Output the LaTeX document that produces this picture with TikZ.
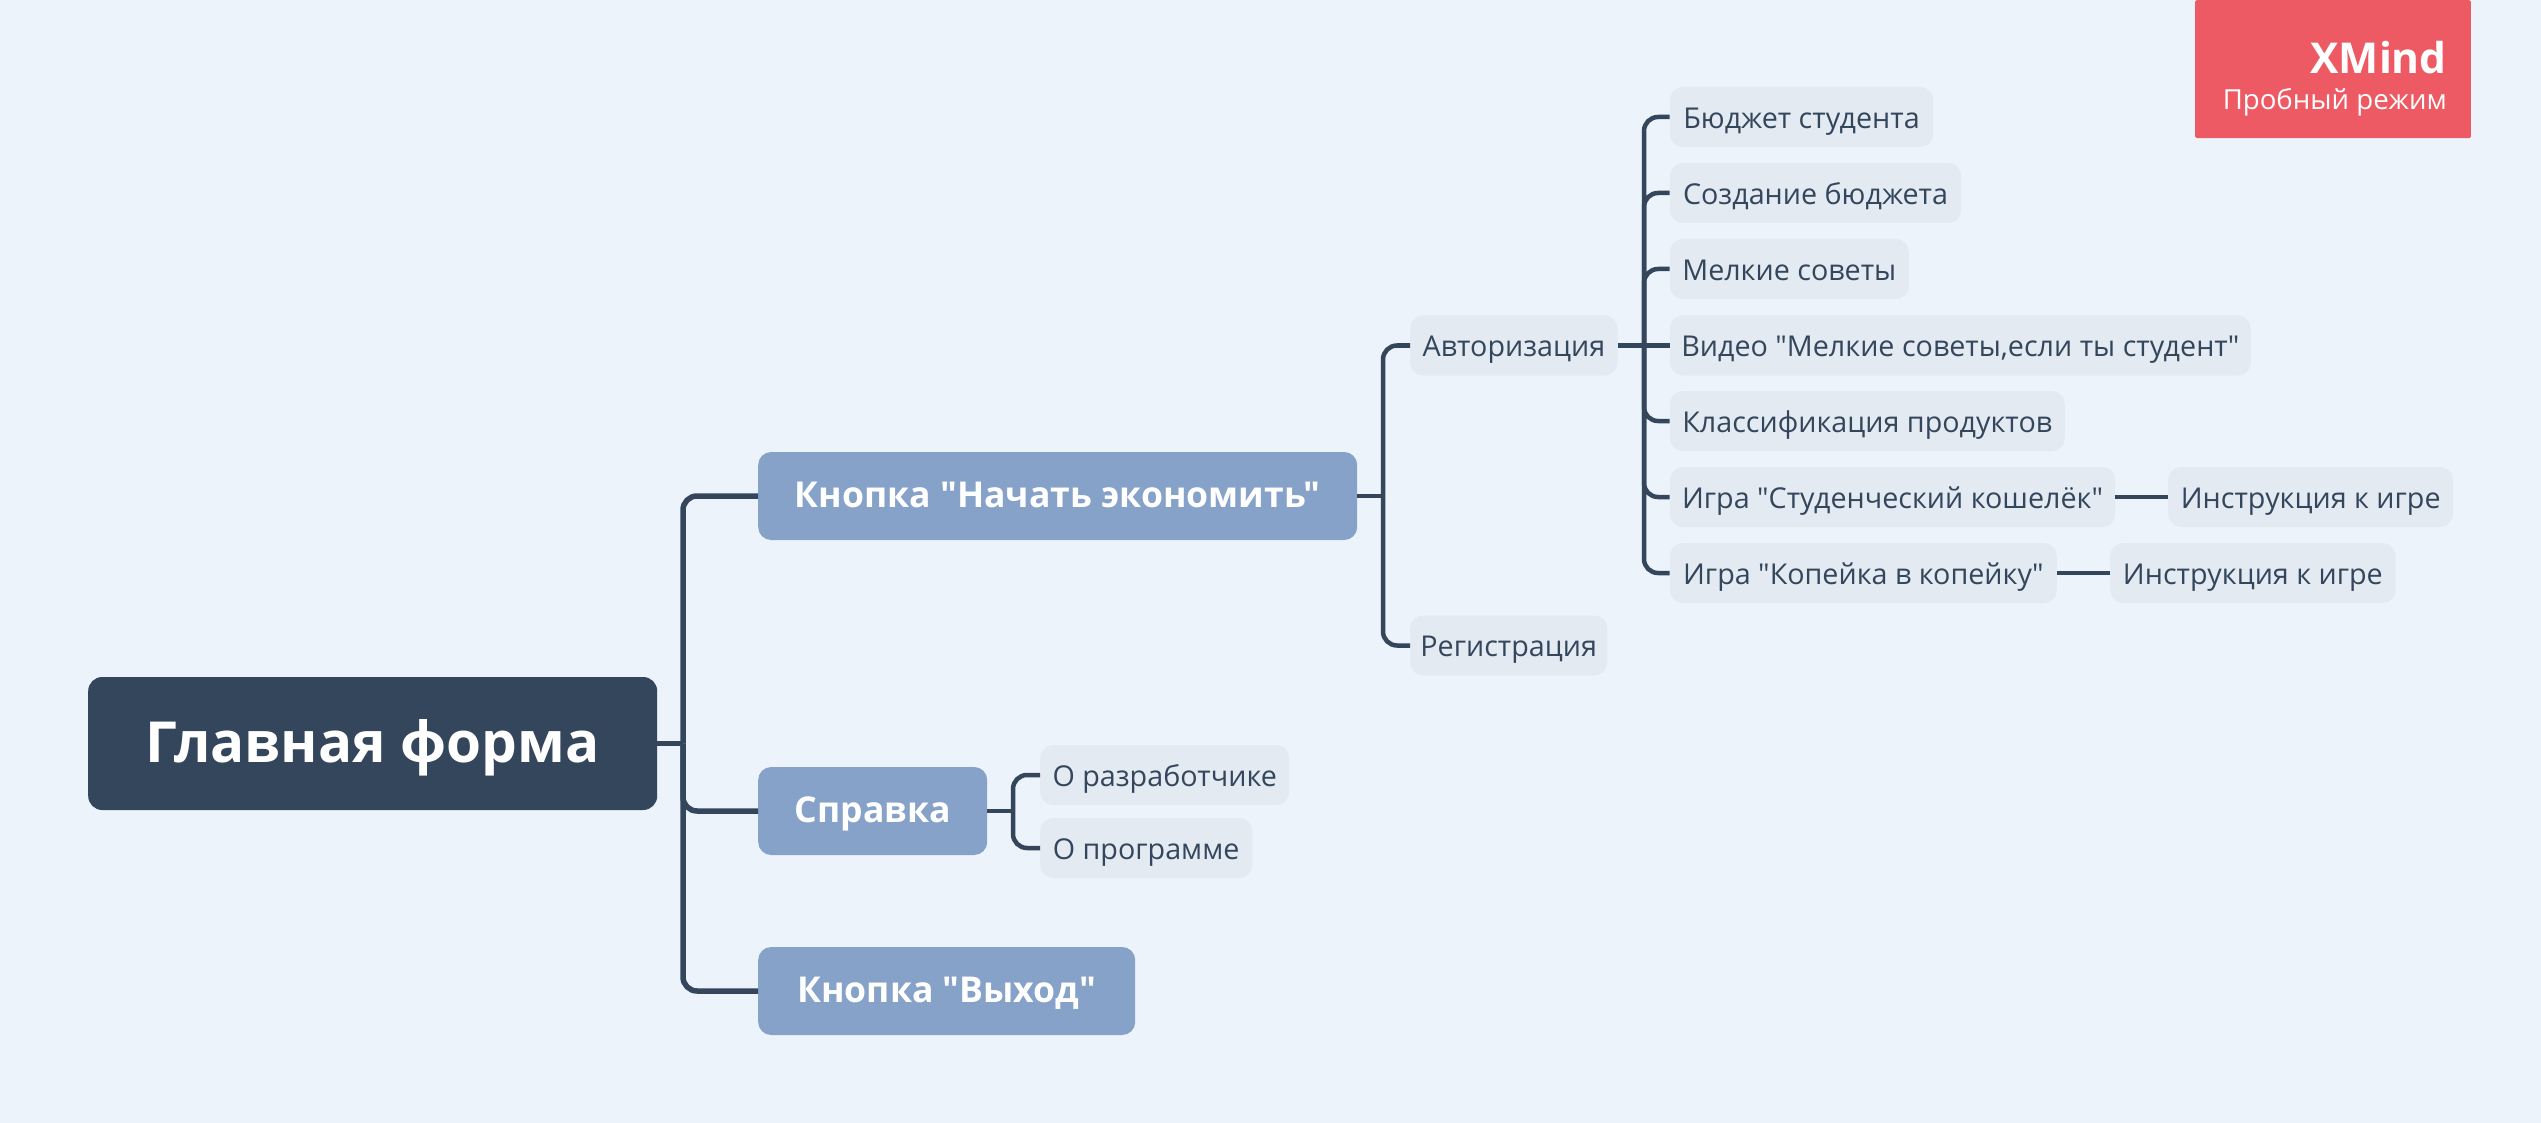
\documentclass[tikz,border=0pt]{standalone}
\usepackage{fontspec}
\setmainfont{Open Sans}[Ligatures=TeXOff]
\definecolor{bgc}{HTML}{ECF3FA}
\definecolor{rootc}{HTML}{34465C}
\definecolor{mainc}{HTML}{86A2C9}
\definecolor{subc}{HTML}{E3EAF2}
\definecolor{redc}{HTML}{EE5A64}
\tikzset{
  x=1pt,y=-1pt,
  boxbase/.style={anchor=west,inner sep=0pt},
  rootbox/.style={boxbase,fill=rootc,text=white,minimum height=133pt,font=\fontsize{56.6}{60}\selectfont\bfseries,text height=45pt,text depth=7pt,rounded corners=14pt},
  mainbox/.style={boxbase,fill=mainc,text=white,minimum height=88pt,font=\fontsize{35.6}{40}\selectfont\bfseries,text height=28pt,text depth=5pt,rounded corners=13pt},
  subbox/.style={boxbase,fill=subc,text=rootc,minimum height=60pt,font=\fontsize{28.7}{32}\selectfont,text height=25.5pt,text depth=3pt,rounded corners=13pt},
  trunk/.style={draw=rootc,line width=5.5pt,rounded corners=14pt},
  branch/.style={draw=rootc,line width=4.5pt,rounded corners=14pt},
}
\begin{document}
\begin{tikzpicture}
\fill[bgc] (0,0) rectangle (2541,1123);
\useasboundingbox (0,0) rectangle (2541,1123);
% junctions
\coordinate (jr) at (683,743.5);
\coordinate (jb) at (1383,496);
\coordinate (ja) at (1644,345.5);
\coordinate (js) at (1013,811);
% nodes
\node[rootbox,minimum width=569pt] (root) at (88,743.5) {Главная форма};
\node[mainbox,minimum width=599pt] (b1) at (758,496) {Кнопка "Начать экономить"};
\node[mainbox,minimum width=229pt] (b2) at (758,811) {Справка};
\node[mainbox,minimum width=377pt] (b3) at (758,991) {Кнопка "Выход"};
\node[subbox,minimum width=249pt] (s1) at (1040,775) {О разработчике};
\node[subbox,minimum width=212pt] (s2) at (1040,848) {О программе};
\node[subbox,minimum width=207.4pt] (auth) at (1410,345.5) {Авторизация};
\node[subbox,minimum width=197pt] (reg) at (1410,645.5) {Регистрация};
\node[subbox,minimum width=263.4pt] (t1) at (1669.6,117) {Бюджет студента};
\node[subbox,minimum width=291.4pt] (t2) at (1669.6,193) {Создание бюджета};
\node[subbox,minimum width=239pt] (t3) at (1669.6,269) {Мелкие советы};
\node[subbox,minimum width=581pt] (t4) at (1669.6,345.5) {Видео "Мелкие советы,если ты студент"};
\node[subbox,minimum width=395pt] (t5) at (1669.6,421) {Классификация продуктов};
\node[subbox,minimum width=445.4pt] (t6) at (1669.6,497) {Игра "Студенческий кошелёк"};
\node[subbox,minimum width=387pt] (t7) at (1669.6,573) {Игра "Копейка в копейку"};
\node[subbox,minimum width=285pt] (i1) at (2168,497) {Инструкция к игре};
\node[subbox,minimum width=285.4pt] (i2) at (2110,573) {Инструкция к игре};
\node[anchor=north west,fill=redc,minimum width=275.6pt,minimum height=138pt,inner sep=0pt,rounded corners=1.5pt] (wm) at (2195,0) {};
\node[anchor=base east,text=white,inner sep=0pt,font=\fontsize{42.5}{44}\selectfont\bfseries] (wm1) at (2447,74) {XMind};
\node[anchor=base east,text=white,inner sep=0pt,font=\fontsize{27.6}{32}\selectfont] (wm2) at (2447,110) {Пробный режим};
% connectors
\draw[trunk] (root.east) -- (jr);
\draw[trunk] (jr) |- (b1.west);
\draw[trunk] (jr) |- (b2.west);
\draw[trunk] (jr) |- (b3.west);
\draw[branch] (b1.east) -- (jb);
\draw[branch] (jb) |- (auth.west);
\draw[branch] (jb) |- (reg.west);
\draw[branch] (b2.east) -- (js);
\draw[branch] (js) |- (s1.west);
\draw[branch] (js) |- (s2.west);
\draw[branch] (auth.east) -- (t4.west);
\draw[branch] (ja) |- (t1.west);
\draw[branch] (ja) |- (t2.west);
\draw[branch] (ja) |- (t3.west);
\draw[branch] (ja) |- (t5.west);
\draw[branch] (ja) |- (t6.west);
\draw[branch] (ja) |- (t7.west);
\draw[branch] (t6.east) -- (i1.west);
\draw[branch] (t7.east) -- (i2.west);
\end{tikzpicture}
\end{document}
